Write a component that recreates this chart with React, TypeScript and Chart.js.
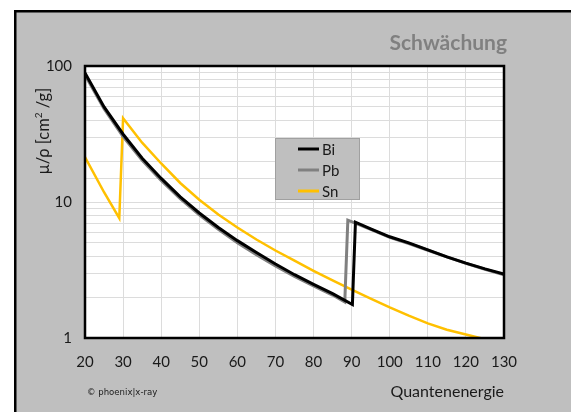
import React, { useEffect, useRef } from "react";
import { Chart, registerables } from "chart.js";

Chart.register(...registerables);

// ---- data ----
const energyBi = [20, 25, 30, 35, 40, 45, 50, 55, 60, 65, 70, 75, 80, 85, 90.2, 91, 95, 100, 105, 110, 115, 120, 125, 130];
const valuesBi = [89, 50, 31.5, 21, 14.9, 10.9, 8.3, 6.5, 5.2, 4.25, 3.5, 2.92, 2.48, 2.12, 1.76, 7.1, 6.35, 5.55, 5.0, 4.45, 3.95, 3.55, 3.22, 2.95];

const energyPb = [20, 25, 30, 35, 40, 45, 50, 55, 60, 65, 70, 75, 80, 85, 88.2, 89, 95, 100, 105, 110, 115, 120, 125, 130];
const valuesPb = [86, 48.6, 30.3, 20.3, 14.4, 10.6, 8.04, 6.29, 5.02, 4.1, 3.39, 2.84, 2.42, 2.07, 1.84, 7.35, 6.3, 5.5, 4.95, 4.42, 3.95, 3.54, 3.2, 2.92];

const energySn = [20, 25, 29, 30, 35, 40, 45, 50, 55, 60, 65, 70, 75, 80, 85, 90, 95, 100, 105, 110, 115, 120, 125, 130];
const valuesSn = [21.4, 11.8, 7.6, 41.3, 27.3, 19.2, 13.8, 10.4, 8.1, 6.5, 5.3, 4.4, 3.7, 3.12, 2.65, 2.27, 1.95, 1.68, 1.46, 1.28, 1.15, 1.06, 0.98, 0.91];

const seriesNames = ["Bi", "Pb", "Sn"];
const seriesColors = ["#000000", "#808080", "#FFC000"];
const yTickLabels = [1, 10, 100];

const chartTitle = "Schwächung";
const xAxisTitle = "Quantenenergie";
const copyright = "© phoenix|x-ray";

const FONT = "Lato, 'Open Sans', sans-serif";

const toPoints = (xs: number[], ys: number[]) => xs.map((x, i) => ({ x, y: ys[i] }));

const decorPlugin = {
  id: "decor",
  beforeDraw(chart: any) {
    const { ctx, chartArea: a } = chart;
    ctx.save();
    ctx.fillStyle = "#ffffff";
    ctx.fillRect(0, 0, chart.width, chart.height);
    ctx.fillStyle = "#bfbfbf";
    ctx.fillRect(14, 10, chart.width - 14, chart.height - 10);
    ctx.fillStyle = "#000000";
    ctx.fillRect(14, 10, chart.width - 14, 2.5);
    ctx.fillRect(14, 10, 2.5, chart.height - 10);
    ctx.fillStyle = "#ffffff";
    ctx.fillRect(a.left, a.top, a.right - a.left, a.bottom - a.top);
    ctx.restore();
  },
  afterDraw(chart: any) {
    const { ctx, chartArea: a } = chart;
    ctx.save();
    // plot border
    ctx.strokeStyle = "#000000";
    ctx.lineWidth = 2.5;
    ctx.strokeRect(a.left, a.top, a.right - a.left, a.bottom - a.top);

    // title
    ctx.fillStyle = "#808080";
    ctx.font = `bold 21px ${FONT}`;
    ctx.textAlign = "right";
    ctx.textBaseline = "middle";
    ctx.fillText(chartTitle, 507, 43);

    // x axis title
    ctx.fillStyle = "#1a1a1a";
    ctx.font = `16px ${FONT}`;
    ctx.fillText(xAxisTitle, 504, 392);

    // copyright
    ctx.textAlign = "left";
    ctx.font = `9.5px 'Liberation Sans Narrow', 'DejaVu Sans Condensed', sans-serif`;
    ctx.fillText(copyright, 87, 393);

    // y axis title (rotated, with superscript)
    ctx.save();
    ctx.translate(43, 131);
    ctx.rotate(-Math.PI / 2);
    const mainFont = `16.5px ${FONT}`;
    const supFont = `10px ${FONT}`;
    const p1 = "μ/ρ [cm";
    const p2 = "2";
    const p3 = " /g]";
    ctx.font = mainFont;
    const w1 = ctx.measureText(p1).width;
    const w3 = ctx.measureText(p3).width;
    ctx.font = supFont;
    const w2 = ctx.measureText(p2).width;
    const total = w1 + w2 + w3;
    let x = -total / 2;
    ctx.textAlign = "left";
    ctx.textBaseline = "alphabetic";
    ctx.font = mainFont;
    ctx.fillText(p1, x, 6);
    x += w1;
    ctx.font = supFont;
    ctx.fillText(p2, x, -1);
    x += w2;
    ctx.font = mainFont;
    ctx.fillText(p3, x, 6);
    ctx.restore();

    // legend box
    ctx.fillStyle = "#bfbfbf";
    ctx.fillRect(275, 138, 84, 61);
    ctx.strokeStyle = "#a0a0a0";
    ctx.lineWidth = 1;
    ctx.strokeRect(275.5, 138.5, 84, 61);
    const rows = [149, 170, 191];
    seriesNames.forEach((name, i) => {
      ctx.strokeStyle = seriesColors[i];
      ctx.lineWidth = 3;
      ctx.beginPath();
      ctx.moveTo(298, rows[i]);
      ctx.lineTo(319, rows[i]);
      ctx.stroke();
      ctx.fillStyle = "#1a1a1a";
      ctx.font = `15px ${FONT}`;
      ctx.textAlign = "left";
      ctx.textBaseline = "middle";
      ctx.fillText(name, 322, rows[i] + 1);
    });
    ctx.restore();
  },
};

export default function App() {
  const canvasRef = useRef<HTMLCanvasElement | null>(null);

  useEffect(() => {
    if (!canvasRef.current) return;
    const chart = new Chart(canvasRef.current, {
      type: "scatter",
      data: {
        datasets: [
          {
            label: "Bi",
            data: toPoints(energyBi, valuesBi),
            borderColor: seriesColors[0],
            borderWidth: 3,
            showLine: true,
            pointRadius: 0,
            tension: 0,
          },
          {
            label: "Pb",
            data: toPoints(energyPb, valuesPb),
            borderColor: seriesColors[1],
            borderWidth: 3,
            showLine: true,
            pointRadius: 0,
            tension: 0,
          },
          {
            label: "Sn",
            data: toPoints(energySn, valuesSn),
            borderColor: seriesColors[2],
            borderWidth: 2.5,
            showLine: true,
            pointRadius: 0,
            tension: 0,
          },
        ],
      },
      options: {
        animation: false,
        responsive: false,
        devicePixelRatio: 1,
        layout: { padding: { left: 0, top: 66, right: 67, bottom: 0 } },
        plugins: {
          legend: { display: false },
          tooltip: { enabled: false },
          title: { display: false },
        },
        scales: {
          x: {
            type: "linear",
            min: 20,
            max: 130,
            ticks: {
              stepSize: 10,
              padding: 15,
              color: "#1a1a1a",
              font: { family: FONT, size: 15 },
              maxRotation: 0,
            },
            grid: { color: "#dcdcdc", lineWidth: 1, drawTicks: false },
            border: { display: false },
            afterFit: (s: any) => {
              s.height = 74;
            },
          },
          y: {
            type: "logarithmic",
            min: 1,
            max: 100,
            ticks: {
              autoSkip: false,
              padding: 13,
              color: "#1a1a1a",
              font: { family: FONT, size: 15 },
              callback: (v: any) => (yTickLabels.includes(Number(v)) ? String(v) : ""),
            },
            grid: { color: "#dcdcdc", lineWidth: 1, drawTicks: false },
            border: { display: false },
            afterFit: (s: any) => {
              s.width = 85;
            },
          },
        },
      },
      plugins: [decorPlugin],
    } as any);
    return () => chart.destroy();
  }, []);

  return (
    <div style={{ position: "absolute", left: 0, top: 0, width: 571, height: 412 }}>
      <canvas ref={canvasRef} width={571} height={412} style={{ display: "block" }} />
    </div>
  );
}
